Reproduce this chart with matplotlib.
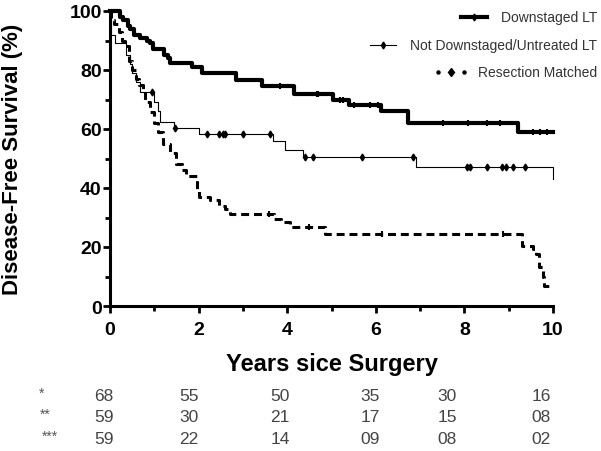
import numpy as np
import matplotlib
matplotlib.use("Agg")
import matplotlib.pyplot as plt
from matplotlib.lines import Line2D

plt.rcParams.update({
    'font.family': ['Liberation Sans', 'DejaVu Sans'],
    'figure.facecolor': 'white',
})

# Kaplan-Meier step data (years, %)
down_t = [0, 0.22, 0.3, 0.4, 0.45, 0.55, 0.68, 0.83, 0.9, 0.97, 1.22, 1.3, 1.35, 1.85,
          2.08, 2.85, 3.43, 4.15, 5.03, 5.4, 6.12, 6.72, 9.2, 10]
down_s = [100, 98, 97, 95, 94, 92, 91, 90, 89, 87, 85, 84, 82.5, 81,
          79, 76.5, 74.5, 72, 70, 68, 66, 62, 59, 59]
down_cens_t = [3.84, 4.67, 4.7, 5.2, 5.26, 5.5, 5.87, 6.05, 7.52, 8.08, 8.5, 8.8, 9.55, 9.7, 9.86]

notd_t = [0, 0.03, 0.12, 0.35, 0.45, 0.5, 0.58, 0.68, 1.0, 1.08, 1.12, 1.45, 2.0,
          3.68, 3.95, 4.36, 6.9, 10, 10]
notd_s = [100, 92, 89, 85, 82, 79, 76, 72.5, 69, 66, 62.5, 60.5, 58.3,
          56, 53, 50.4, 47, 47, 43]
notd_cens_t = [0.94, 1.47, 2.18, 2.45, 2.55, 2.6, 3.0, 3.61, 4.4, 4.58, 5.68, 6.84,
               8.05, 8.13, 8.5, 8.84, 8.95, 9.1, 9.37]

resec_t = [0, 0.02, 0.1, 0.2, 0.28, 0.34, 0.42, 0.5, 0.58, 0.66, 0.74, 0.8, 0.9, 1.0,
           1.08, 1.2, 1.35, 1.48, 1.62, 1.72, 1.96, 2.0, 2.26, 2.45, 2.6, 2.7, 3.7,
           3.85, 4.06, 4.85, 9.3, 9.55, 9.62, 9.68, 9.78, 9.8, 9.93]
resec_s = [100, 97, 95.5, 93, 90, 88, 83, 80, 77, 75, 73, 69, 65.7, 62,
           59, 55, 52, 48, 46, 44, 39.7, 37, 36, 34, 33, 31.2, 29.5,
           28.5, 26.7, 24.4, 20.4, 19.3, 17.6, 13.2, 10, 6.9, 6.9]
resec_cens_t = [3.6, 4.5, 6.13, 8.87]

series_labels = ["Downstaged LT", "Not Downstaged/Untreated LT", "Resection Matched"]

# numbers at risk
risk_rows = ["*", "**", "***"]
risk_vals = [
    ["68", "55", "50", "35", "30", "16"],
    ["59", "30", "21", "17", "15", "08"],
    ["59", "22", "14", "09", "08", "02"],
]


def step_value(ts, ss, t):
    idx = np.searchsorted(ts, t, side='right') - 1
    return ss[max(idx, 0)]


W, H = 601, 452
fig = plt.figure(figsize=(W / 100, H / 100), dpi=100)
ax = fig.add_axes([110 / W, 1 - 307 / H, 443 / W, 295 / H])

ax.step(down_t, down_s, where='post', color='black', lw=3.0, clip_on=False)
ax.step(notd_t, notd_s, where='post', color='black', lw=0.8, clip_on=False)
ax.step(resec_t, resec_s, where='post', color='black', lw=2.2,
        linestyle=(0, (2.6, 1.6)), clip_on=False)

ax.plot(down_cens_t, [step_value(down_t, down_s, t) for t in down_cens_t],
        linestyle='none', marker='|', ms=5, mew=1.5, color='black', clip_on=False)
ax.plot(notd_cens_t, [step_value(notd_t, notd_s, t) for t in notd_cens_t],
        linestyle='none', marker='d', ms=3.5, color='black', clip_on=False)
ax.plot(resec_cens_t, [step_value(resec_t, resec_s, t) for t in resec_cens_t],
        linestyle='none', marker='|', ms=4, mew=1.5, color='black', clip_on=False)

ax.set_xlim(0, 10)
ax.set_ylim(0, 100)
ax.set_xticks([0, 2, 4, 6, 8, 10])
ax.set_xticks([1, 3, 5, 7, 9], minor=True)
ax.set_yticks([0, 20, 40, 60, 80, 100])
ax.set_yticks([10, 30, 50, 70, 90], minor=True)
for s in ['top', 'right']:
    ax.spines[s].set_visible(False)
for s in ['left', 'bottom']:
    ax.spines[s].set_linewidth(2.2)
ax.tick_params(which='major', length=5, width=2.0, labelsize=14, direction='out')
ax.tick_params(which='minor', length=3.5, width=2.0, direction='out')
ax.tick_params(axis='x', pad=6)
ax.tick_params(axis='y', pad=1)
for lab in ax.get_xticklabels() + ax.get_yticklabels():
    lab.set_fontweight('bold')

ax.set_xlabel("Years sice Surgery", fontsize=17, fontweight='bold')
ax.set_ylabel("Disease-Free Survival (%)", fontsize=16, fontweight='bold')
ax.xaxis.set_label_coords(0.5, -0.156)
ax.yaxis.set_label_coords(-0.196, 0.5)

# legend drawn by hand: text right-aligned, sample to the left
leg_y = [1 - 18 / H, 1 - 46 / H, 1 - 73 / H]
texts = []
for lab, y in zip(series_labels, leg_y):
    texts.append(fig.text(597 / W, y, lab, ha='right', va='center', fontsize=10,
                          color='#333333'))
fig.canvas.draw()
rend = fig.canvas.get_renderer()
styles = [dict(lw=3.0, linestyle='-'), dict(lw=0.8, linestyle='-'), None]
for txt, y, st in zip(texts, leg_y, styles):
    bb = txt.get_window_extent(rend)
    x1 = (bb.x0 - 14) / W
    x0 = x1 - 26 / W
    xm = (x0 + x1) / 2
    if st is not None:
        fig.add_artist(Line2D([x0, x1], [y, y], color='black', transform=fig.transFigure, **st))
        fig.add_artist(Line2D([xm], [y], marker='d', ms=3.5, color='black', linestyle='none',
                              transform=fig.transFigure))
    else:
        fig.add_artist(Line2D([x0, x1], [y, y], marker='o', ms=2.2, color='black', linestyle='none',
                              transform=fig.transFigure))
        fig.add_artist(Line2D([xm], [y], marker='d', ms=4.5, color='black', linestyle='none',
                              transform=fig.transFigure))

# numbers at risk table
col_x = [104, 189, 280, 370, 447, 541]
row_y = [397, 418, 440]
lab_x = [42, 45, 50]
for r, (lab, vals) in enumerate(zip(risk_rows, risk_vals)):
    fig.text(lab_x[r] / W, 1 - (row_y[r] - 3) / H, lab, ha='center', va='center',
             fontsize=10, color='#555555')
    for c, v in enumerate(vals):
        fig.text(col_x[c] / W, 1 - row_y[r] / H, v, ha='center', va='center',
                 fontsize=12.5, color='#444444')

fig.savefig("out.png", dpi=100)
